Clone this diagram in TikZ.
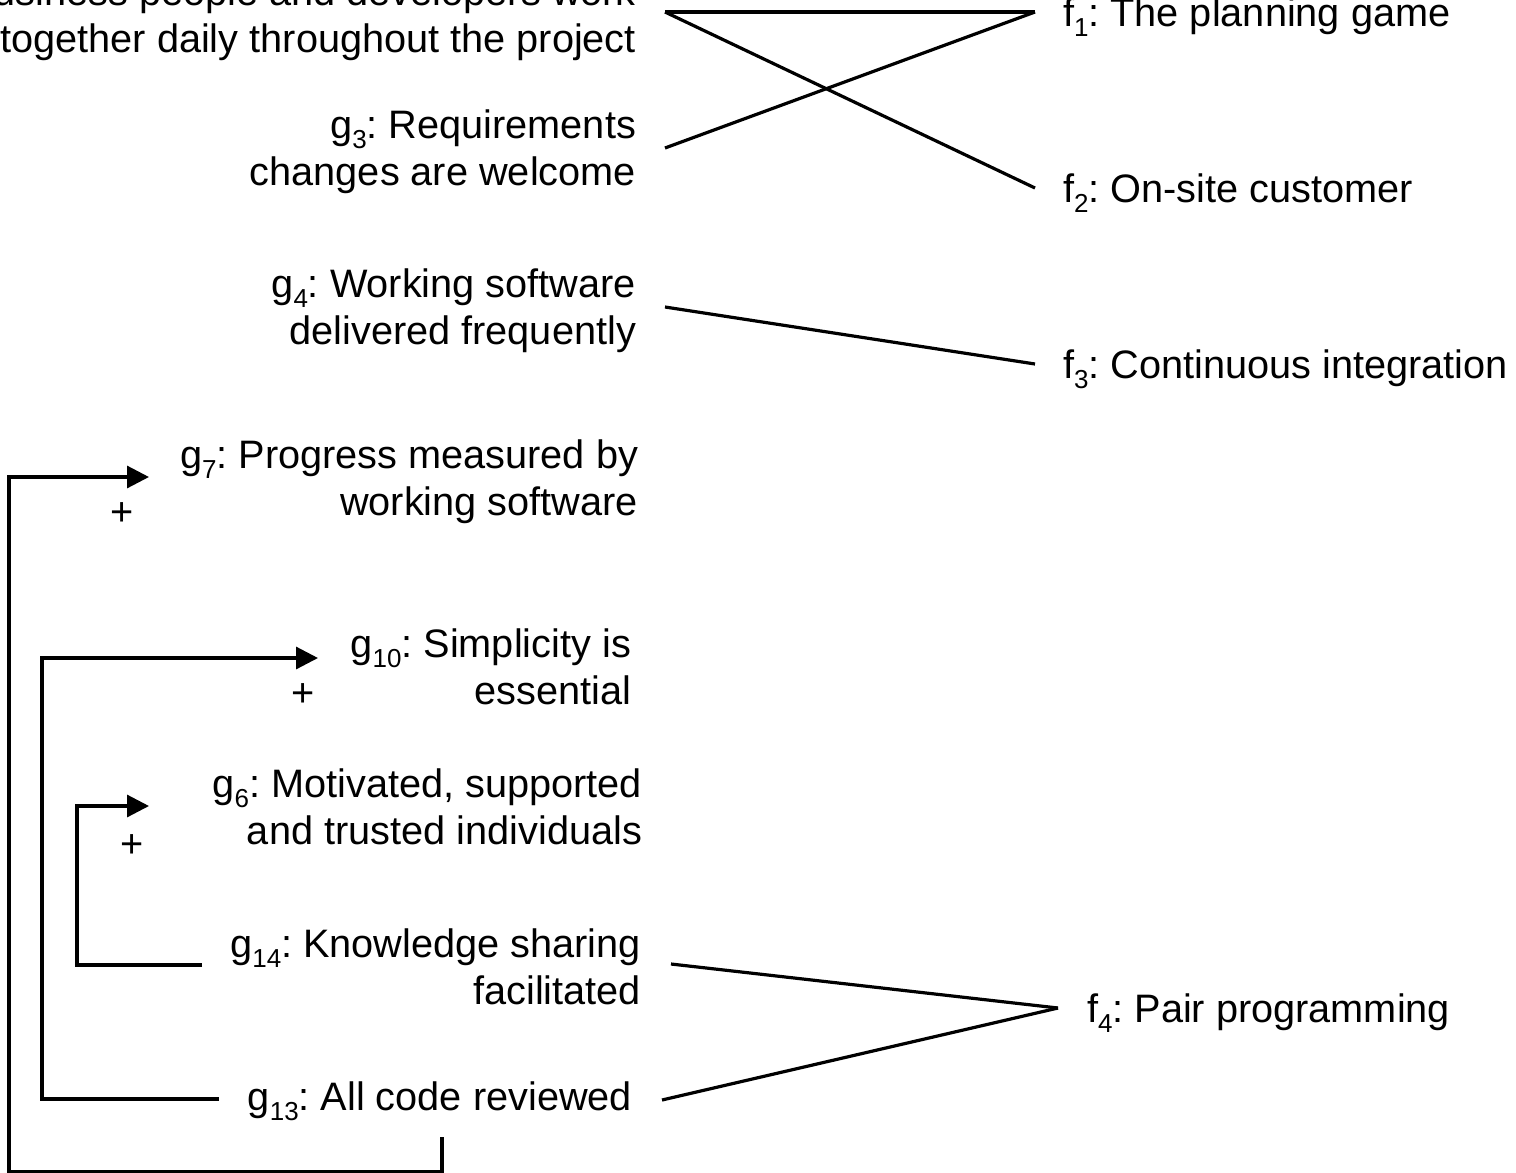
\documentclass[tikz,border=0pt]{standalone}
\usepackage{fontspec}
\setmainfont{Liberation Sans}
\usetikzlibrary{arrows.meta}
\newcommand\sbs[1]{\raisebox{-5pt}{\fontsize{13pt}{13pt}\selectfont #1}}
\frenchspacing
\begin{document}
\begin{tikzpicture}[x=0.5pt,y=-0.5pt,
  lbl/.style={inner sep=0pt, outer sep=0pt, font=\fontsize{19.85pt}{23.5pt}\selectfont},
  glbl/.style={lbl, align=right, anchor=base east},
  flbl/.style={lbl, align=left, anchor=base west},
  plus/.style={lbl, anchor=center},
  link/.style={line width=1.6pt, draw=black},
  arr/.style={link, -{Triangle[length=11pt,width=11pt]}}]
\fill[white] (0,0) rectangle (1516,1173);
\useasboundingbox (0,0) rectangle (1516,1173);
% goals (base = baseline of last line)
\node[glbl] (g2) at (636,52) {Business people and developers work\\together daily throughout the project};
\node[glbl] (g3) at (636,185) {g\sbs{3}: Requirements\\changes are welcome};
\node[glbl] (g4) at (636,344) {g\sbs{4}: Working software\\delivered frequently};
\node[glbl] (g7) at (638,515) {g\sbs{7}: Progress measured by\\working software};
\node[glbl] (g10) at (631,704) {g\sbs{10}: Simplicity is\\essential};
\node[glbl] (g6) at (642,844) {g\sbs{6}: Motivated, supported\\and trusted individuals};
\node[glbl] (g14) at (641,1004) {g\sbs{14}: Knowledge sharing\\facilitated};
\node[glbl] (g13) at (632,1110) {g\sbs{13}: All code reviewed};
% features
\node[flbl] (f1) at (1063,26) {f\sbs{1}: The planning game};
\node[flbl] (f2) at (1063,202) {f\sbs{2}: On-site customer};
\node[flbl] (f3) at (1063,378) {f\sbs{3}: Continuous integration};
\node[flbl] (f4) at (1087,1022) {f\sbs{4}: Pair programming};
% plus signs
\node[plus] (p7) at (122,514) {+};
\node[plus] (p10) at (303,695) {+};
\node[plus] (p6) at (132,846) {+};
% goal-feature links
\draw[link] ([shift={(29,-40)}]g2.base east) -- ([shift={(-28,-14)}]f1.base west);
\draw[link] ([shift={(29,-40)}]g2.base east) -- ([shift={(-28,-14)}]f2.base west);
\draw[link] ([shift={(29,-37)}]g3.base east) -- ([shift={(-28,-14)}]f1.base west);
\draw[link] ([shift={(29,-37)}]g4.base east) -- ([shift={(-28,-14)}]f3.base west);
\draw[link] ([shift={(30,-40)}]g14.base east) -- ([shift={(-29,-14)}]f4.base west);
\draw[link] ([shift={(30,-10)}]g13.base east) -- ([shift={(-29,-14)}]f4.base west);
% positive contributions
\draw[arr] ([shift={(-439,-39)}]g14.base east) -- ++(-125,0) |- ([shift={(-493,-38)}]g6.base east);
\draw[arr] ([shift={(-413,-11)}]g13.base east) -- ++(-177,0) |- ([shift={(-313,-46)}]g10.base east);
\draw[arr] ([shift={(-190,27)}]g13.base east) |- ++(-433,35) |- ([shift={(-489,-38)}]g7.base east);
\end{tikzpicture}
\end{document}
